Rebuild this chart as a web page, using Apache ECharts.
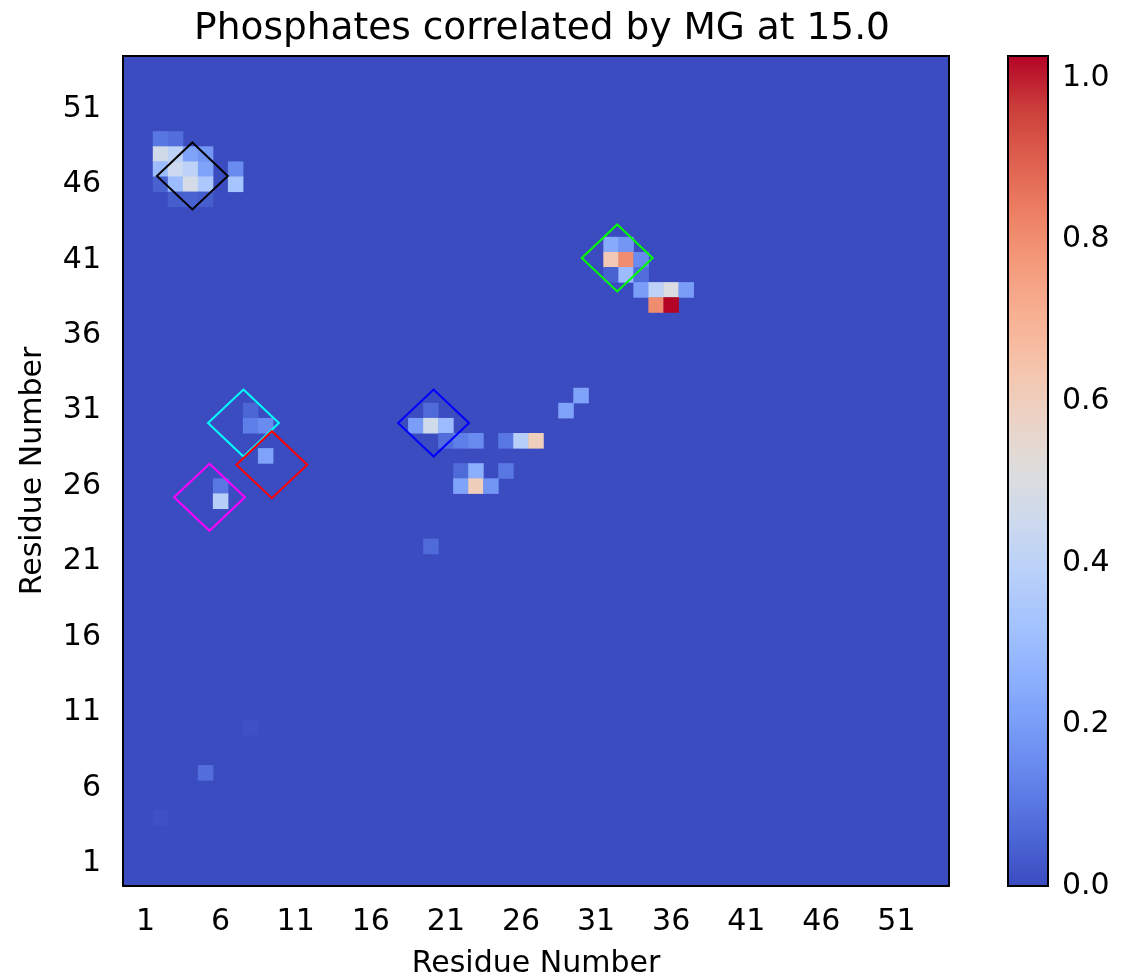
<!DOCTYPE html>
<html>
<head>
<meta charset="utf-8">
<script src="https://cdn.jsdelivr.net/npm/echarts@6/dist/echarts.min.js"></script>
<style>
  html, body { margin: 0; padding: 0; background: #fff; }
  #chart { width: 1126px; height: 979px; }
</style>
</head>
<body>
<div id="chart"></div>
<script>
// residue index on both axes, 0..54
const residues = Array.from({ length: 55 }, (_, i) => String(i));
const tickResidues = [1, 6, 11, 16, 21, 26, 31, 36, 41, 46, 51];

// non-zero correlation cells: [x residue, y residue, value]; everything else is 0
const cells = [
    [2, 49, 0.10], [3, 49, 0.08],
    [2, 48, 0.47], [3, 48, 0.40], [4, 48, 0.22], [5, 48, 0.18],
    [2, 47, 0.30], [3, 47, 0.45], [4, 47, 0.40], [5, 47, 0.22], [7, 47, 0.15],
    [2, 46, 0.05], [3, 46, 0.30], [4, 46, 0.48], [5, 46, 0.35], [7, 46, 0.33],
    [3, 45, 0.04], [4, 45, 0.05], [5, 45, 0.04],
    [32, 42, 0.24], [33, 42, 0.18],
    [32, 41, 0.62], [33, 41, 0.80], [34, 41, 0.15],
    [32, 40, 0.05], [33, 40, 0.30], [34, 40, 0.08],
    [34, 39, 0.20], [35, 39, 0.40], [36, 39, 0.50], [37, 39, 0.20],
    [35, 38, 0.80], [36, 38, 1.027],
    [30, 32, 0.22], [29, 31, 0.22],
    [8, 31, 0.06], [8, 30, 0.12], [9, 30, 0.15], [9, 28, 0.22],
    [6, 26, 0.10], [6, 25, 0.38],
    [20, 31, 0.07], [19, 30, 0.20], [20, 30, 0.46], [21, 30, 0.30],
    [21, 29, 0.08], [22, 29, 0.12], [23, 29, 0.15], [25, 29, 0.10], [26, 29, 0.38], [27, 29, 0.60],
    [22, 27, 0.07], [23, 27, 0.25], [25, 27, 0.10],
    [22, 26, 0.22], [23, 26, 0.60], [24, 26, 0.18],
    [20, 22, 0.07], [5, 7, 0.08], [8, 10, 0.01], [2, 4, 0.01]
];

// highlighted regions (diamond centres in residue units)
const boxCenters = [[4.12, 46.55], [32.41, 41.12], [7.52, 30.18], [9.41, 27.42], [5.26, 25.26], [20.18, 30.18]];
const boxColors = ['#000000', '#00ff00', '#00ffff', '#ff0000', '#ff00ff', '#0000ff'];

const vMin = 0;
const vMax = 1.027;

const coolwarm = [
    '#3b4cc0', '#4d68d7', '#6282ea', '#779af7', '#8db0fe', '#a3c2ff', '#b8d0f9', '#ccd9ee',
    '#dddddd', '#ecd3c5', '#f5c4ac', '#f7b193', '#f49a7b', '#ec7f63', '#de604e', '#cb3e3b', '#b40426'
];

const boxHalfW = 2.36;
const boxHalfH = 2.22;
const font = 'DejaVu Sans';
const isTick = (idx) => tickResidues.indexOf(idx) >= 0;

const chart = echarts.init(document.getElementById('chart'));
chart.setOption({
    backgroundColor: '#ffffff',
    animation: false,
    title: {
        text: 'Phosphates correlated by MG at 15.0',
        left: 537,
        top: 5,
        textAlign: 'center',
        textStyle: { fontFamily: font, fontSize: 37.5, fontWeight: 'normal', color: '#000' }
    },
    grid: [
        {
            left: 123, top: 56, width: 826, height: 830,
            outerBoundsMode: 'none',
            show: true, backgroundColor: coolwarm[0], borderColor: '#000', borderWidth: 2
        },
        {
            left: 1008, top: 56, width: 40, height: 830,
            outerBoundsMode: 'none',
            show: true, backgroundColor: 'transparent', borderColor: '#000', borderWidth: 2, z: 10
        }
    ],
    xAxis: [
        {
            type: 'category',
            gridIndex: 0,
            data: residues,
            name: 'Residue Number',
            nameLocation: 'middle',
            nameGap: 63,
            nameTextStyle: { fontFamily: font, fontSize: 30, color: '#000' },
            axisLine: { show: false },
            axisTick: { alignWithLabel: true, length: 9, interval: isTick, lineStyle: { color: '#000', width: 1.5 } },
            axisLabel: { interval: isTick, margin: 21, fontFamily: font, fontSize: 30, color: '#000' },
            splitLine: { show: false }
        },
        {
            type: 'value', gridIndex: 1, min: 0, max: 1,
            show: false
        }
    ],
    yAxis: [
        {
            type: 'category',
            gridIndex: 0,
            data: residues,
            name: 'Residue Number',
            nameLocation: 'middle',
            nameGap: 75,
            nameTextStyle: { fontFamily: font, fontSize: 30, color: '#000' },
            axisLine: { show: false },
            axisTick: { alignWithLabel: true, length: 10, interval: isTick, lineStyle: { color: '#000', width: 1.5 } },
            axisLabel: { interval: isTick, margin: 22, fontFamily: font, fontSize: 30, color: '#000' },
            splitLine: { show: false }
        },
        {
            type: 'value',
            gridIndex: 1,
            position: 'right',
            min: vMin,
            max: vMax,
            interval: 0.2,
            axisLine: { show: false },
            axisTick: { show: true, length: 9, lineStyle: { color: '#000', width: 1.5 } },
            axisLabel: {
                margin: 14, fontFamily: font, fontSize: 30, color: '#000',
                formatter: (v) => v.toFixed(1)
            },
            splitLine: { show: false }
        }
    ],
    visualMap: {
        type: 'continuous',
        seriesIndex: 0,
        dimension: 2,
        min: vMin,
        max: vMax,
        calculable: false,
        orient: 'vertical',
        left: 993,
        top: 41,
        itemWidth: 40,
        itemHeight: 830,
        text: null,
        showLabel: false,
        inRange: { color: coolwarm }
    },
    series: [
        {
            type: 'heatmap',
            xAxisIndex: 0,
            yAxisIndex: 0,
            data: cells,
            itemStyle: { borderWidth: 0 },
            emphasis: { disabled: true }
        },
        {
            type: 'custom',
            xAxisIndex: 0,
            yAxisIndex: 0,
            data: boxCenters,
            z: 5,
            renderItem(params, api) {
                const cx = api.value(0);
                const cy = api.value(1);
                const base = api.coord([0, 0]);
                const unit = api.size([1, 1]);
                const px = (x) => base[0] + x * unit[0];
                const py = (y) => base[1] - y * unit[1];
                return {
                    type: 'polygon',
                    shape: {
                        points: [
                            [px(cx), py(cy + boxHalfH)],
                            [px(cx + boxHalfW), py(cy)],
                            [px(cx), py(cy - boxHalfH)],
                            [px(cx - boxHalfW), py(cy)]
                        ]
                    },
                    style: { fill: null, stroke: boxColors[params.dataIndex], lineWidth: 2 }
                };
            }
        },
        {
            type: 'scatter',
            xAxisIndex: 1,
            yAxisIndex: 1,
            data: [],
            silent: true
        }
    ]
});
</script>
</body>
</html>
